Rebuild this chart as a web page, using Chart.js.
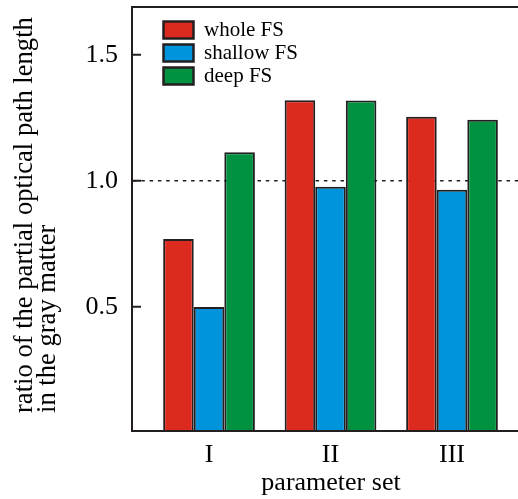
<!DOCTYPE html>
<html>
<head>
<meta charset="utf-8">
<script src="https://cdn.jsdelivr.net/npm/chart.js@4.4.1/dist/chart.umd.min.js"></script>
<style>
  html, body { margin: 0; padding: 0; background: #fff; overflow: hidden; }
  #grafico { display: block; }
</style>
</head>
<body>
<canvas id="grafico" width="530" height="499"></canvas>
<script>
// Datos
const categorias = ['I', 'II', 'III'];
const posiciones = [1, 2, 3];
const wholeFS = [0.77, 1.32, 1.255];
const shallowFS = [0.50, 0.977, 0.965];
const deepFS = [1.114, 1.319, 1.243];
const ticksY = [0.5, 1.0, 1.5];
const nombresSeries = ['whole FS', 'shallow FS', 'deep FS'];
const tituloY = ['ratio of the partial optical path length', 'in the gray matter'];
const tituloX = 'parameter set';

const colores = ['#dc2a1f', '#0094dd', '#009240'];
const borde = '#231f20';
const fuente = "'Liberation Serif', 'Times New Roman', serif";

Chart.defaults.font.family = fuente;
Chart.defaults.color = '#000';

// Mover la leyenda dentro del area del grafico
const moverLeyenda = {
    id: 'moverLeyenda',
    afterLayout(chart) {
        const ca = chart.chartArea;
        const ley = chart.legend;
        ley.left = ca.left + 29.5;
        ley.top = ca.top + 10.5;
        ley.right = ley.left + 200;
        ley.bottom = ley.top + 200;
    }
};

// Titulo del eje Y en dos lineas, alineado abajo
const tituloEjeY = {
    id: 'tituloEjeY',
    afterDraw(chart) {
        const ctx = chart.ctx;
        const ca = chart.chartArea;
        ctx.save();
        ctx.font = '26.6px ' + fuente;
        ctx.fillStyle = '#000';
        ctx.textAlign = 'left';
        ctx.textBaseline = 'alphabetic';
        tituloY.forEach(function (linea, i) {
            ctx.save();
            ctx.translate(32 + i * 23, ca.bottom - 18);
            ctx.rotate(-Math.PI / 2);
            ctx.fillText(linea, 0, 0);
            ctx.restore();
        });
        ctx.restore();
    }
};

const series = [wholeFS, shallowFS, deepFS];
const datasets = series.map(function (serie, i) {
    return {
        label: nombresSeries[i],
        data: serie.map((v, j) => ({ x: posiciones[j], y: v })),
        backgroundColor: colores[i],
        borderColor: borde,
        borderWidth: 2,
        borderSkipped: false,
        categoryPercentage: 0.755,
        barPercentage: 1
    };
});

new Chart(document.getElementById('grafico'), {
    type: 'bar',
    data: { datasets: datasets },
    plugins: [moverLeyenda, tituloEjeY],
    options: {
        responsive: false,
        animation: false,
        devicePixelRatio: 1,
        layout: { autoPadding: false, padding: { top: 7, left: 0, right: 0, bottom: 0 } },
        plugins: {
            tooltip: { enabled: false },
            legend: {
                position: 'top',
                align: 'start',
                maxHeight: 0.01,
                labels: {
                    boxWidth: 30,
                    boxHeight: 17,
                    padding: 2,
                    color: '#000',
                    font: { size: 21 },
                    generateLabels: function (chart) {
                        const items = Chart.defaults.plugins.legend.labels.generateLabels(chart);
                        items.forEach(it => { it.lineWidth = 2.5; });
                        return items;
                    }
                }
            }
        },
        scales: {
            x: {
                type: 'linear',
                position: 'bottom',
                offset: false,
                min: 0.366,
                max: 3.642,
                afterBuildTicks: function (s) {
                    s.ticks = posiciones.map(v => ({ value: v }));
                },
                afterFit: function (s) {
                    s.height = 68;
                    s.paddingLeft = 0;
                    s.paddingRight = 0;
                },
                grid: { offset: false, drawOnChartArea: false, drawTicks: false },
                border: { color: borde, width: 2, z: 1 },
                ticks: {
                    padding: 9,
                    color: '#000',
                    font: { size: 26 },
                    callback: function (v) {
                        const i = posiciones.indexOf(v);
                        return i >= 0 ? categorias[i] : '';
                    }
                },
                title: {
                    display: true,
                    text: tituloX,
                    color: '#000',
                    font: { size: 26 },
                    padding: { top: 0, bottom: 0 }
                }
            },
            xArriba: {
                type: 'linear',
                position: 'top',
                offset: false,
                min: 0,
                max: 1,
                afterFit: function (s) { s.height = 0; },
                ticks: { display: false },
                grid: { offset: false, drawOnChartArea: false, drawTicks: false },
                border: { color: borde, width: 2, z: 1 }
            },
            y: {
                min: 0.008,
                max: 1.69,
                afterBuildTicks: function (s) {
                    s.ticks = ticksY.map(v => ({ value: v }));
                },
                afterFit: function (s) {
                    s.width = 132;
                    s.paddingTop = 0;
                    s.paddingBottom = 0;
                },
                grid: {
                    drawOnChartArea: true,
                    color: c => (c.tick && c.tick.value === 1 ? borde : 'rgba(0,0,0,0)'),
                    lineWidth: 1.5,
                    tickLength: -9,
                    tickColor: borde,
                    tickWidth: 2
                },
                border: { color: borde, width: 2, dash: [3.5, 4.8], z: 1 },
                ticks: {
                    padding: 23,
                    color: '#000',
                    font: { size: 26 },
                    callback: v => v.toFixed(1)
                }
            }
        }
    }
});
</script>
</body>
</html>
